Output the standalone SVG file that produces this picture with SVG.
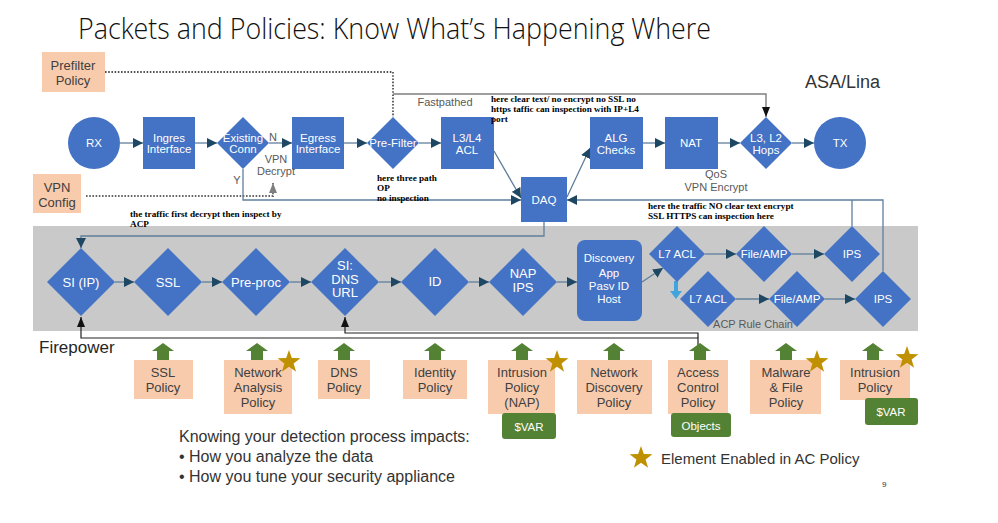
<svg xmlns="http://www.w3.org/2000/svg" width="998" height="523" viewBox="0 0 998 523">
<defs>
<marker id="ah" markerUnits="userSpaceOnUse" markerWidth="10" markerHeight="10" viewBox="0 0 10 10" refX="10" refY="5" orient="auto"><path d="M0,0 L10,5 L0,10 z" fill="#1d4762"/></marker>
<marker id="ahk" markerUnits="userSpaceOnUse" markerWidth="10" markerHeight="10" viewBox="0 0 10 10" refX="10" refY="5" orient="auto"><path d="M0,1 L10,5 L0,9 z" fill="#111"/></marker>
<marker id="ahg" markerUnits="userSpaceOnUse" markerWidth="10" markerHeight="10" viewBox="0 0 10 10" refX="10" refY="5" orient="auto"><path d="M0,1 L10,5 L0,9 z" fill="#7f7f7f"/></marker>
<polygon id="star" points="0,-12 2.8,-3.9 11.4,-3.7 4.6,1.5 7.1,9.7 0,4.8 -7.1,9.7 -4.6,1.5 -11.4,-3.7 -2.8,-3.9" fill="#BF9000"/>
<path id="garrow" d="M-6,17 L-6,8 L-11,8 L0,0 L11,8 L6,8 L6,17 z" fill="#548235"/>
</defs>
<style>
.b{fill:#4472C4}
.w{fill:#fff;font-family:"Liberation Sans",Arial,sans-serif;font-size:11.5px;text-anchor:middle}
.w2{fill:#fff;font-family:"Liberation Sans",Arial,sans-serif;font-size:13px;text-anchor:middle}
.p{fill:#F8CBAD}
.pt{fill:#404040;font-family:"Liberation Sans",Arial,sans-serif;font-size:13px;text-anchor:middle}
.g{fill:#595959;font-family:"Liberation Sans",Arial,sans-serif;font-size:11px;text-anchor:middle}
.n{fill:#000;font-family:"Liberation Serif","Times New Roman",serif;font-size:9.2px;font-weight:bold}
.c{fill:none;stroke:#5f7f9c;stroke-width:1.3}
.k{fill:none;stroke:#222;stroke-width:1.2}
.gb{fill:#548235}
</style>
<rect width="998" height="523" fill="#fff"/>
<text x="78" y="39" font-family="'Open Sans',sans-serif" font-weight="300" font-size="29" fill="#111" textLength="633" lengthAdjust="spacingAndGlyphs">Packets and Policies: Know What’s Happening Where</text>
<text x="805" y="88" font-family="'Liberation Sans',Arial,sans-serif" font-size="18" fill="#333">ASA/Lina</text>
<rect x="33" y="226" width="885" height="105" fill="#C9C9C9"/>
<text x="39" y="353" font-family="'Liberation Sans',Arial,sans-serif" font-size="17" fill="#262626">Firepower</text>

<g id="connectors">
<path d="M105,72 H393 V117" fill="none" stroke="#555" stroke-width="1.8" stroke-dasharray="1.6,1.6"/>
<path d="M393,94 H766 V117" fill="none" stroke="#7f7f7f" stroke-width="1.4" marker-end="url(#ahk)"/>
<path d="M86,196 H273 V183" fill="none" stroke="#666" stroke-width="1.8" stroke-dasharray="1.6,1.6" marker-end="url(#ahg)"/>
<path class="c" d="M120,143 H143" marker-end="url(#ah)"/>
<path class="c" d="M195,143 H217" marker-end="url(#ah)"/>
<path class="c" d="M269,143 H292" marker-end="url(#ah)"/>
<path class="c" d="M344,143 H367" marker-end="url(#ah)"/>
<path class="c" d="M419,143 H441" marker-end="url(#ah)"/>
<path class="c" d="M643,143 H665" marker-end="url(#ah)"/>
<path class="c" d="M718,143 H740" marker-end="url(#ah)"/>
<path class="c" d="M792,143 H814" marker-end="url(#ah)"/>
<path class="c" d="M494,151 L521,198" marker-end="url(#ah)"/>
<path class="c" d="M567,197 L590,148" marker-end="url(#ah)"/>
<path class="c" d="M243,169 V200 H521" marker-end="url(#ah)"/>
<path class="c" d="M883,271 V200 H567" marker-end="url(#ah)"/>
<path class="c" d="M852,226 V200"/>
<path class="c" d="M544,222 V236 H81 V248" marker-end="url(#ah)"/>
<path class="c" d="M115,282 H134" marker-end="url(#ah)"/>
<path class="c" d="M202,282 H222" marker-end="url(#ah)"/>
<path class="c" d="M290,282 H311" marker-end="url(#ah)"/>
<path class="c" d="M379,282 H401" marker-end="url(#ah)"/>
<path class="c" d="M469,282 H489" marker-end="url(#ah)"/>
<path class="c" d="M557,282 H577" marker-end="url(#ah)"/>
<path class="c" d="M642,282 L663,268" marker-end="url(#ah)"/>
<path class="c" d="M705,254 H736" marker-end="url(#ah)"/>
<path class="c" d="M792,254 H824" marker-end="url(#ah)"/>
<path class="c" d="M736,299 H769" marker-end="url(#ah)"/>
<path class="c" d="M825,299 H855" marker-end="url(#ah)"/>
<path d="M674,281 V291 H670 L676,299 L682,291 H678 V281 z" fill="#41A4DC"/>
<path class="k" d="M698,345 V338 H81 V317" marker-end="url(#ahk)"/>
<path class="k" d="M698,338 V333 H345 V317" marker-end="url(#ahk)"/>
</g>

<g id="prefilter-policy"><rect class="p" x="42" y="52" width="63" height="40"/><text class="pt" x="73" y="70" font-size="13.5">Prefilter</text><text class="pt" x="73" y="85" font-size="13.5">Policy</text></g>
<g id="vpn-config"><rect class="p" x="33" y="174" width="48" height="39"/><text class="pt" x="57" y="192" font-size="13.5">VPN</text><text class="pt" x="57" y="207" font-size="13.5">Config</text></g>

<g id="rx"><circle class="b" cx="94" cy="143" r="26"/><text class="w" x="94" y="147">RX</text></g>
<g id="ingres"><rect class="b" x="143" y="117" width="52" height="52"/><text class="w" x="169" y="142">Ingres</text><text class="w" x="169" y="153">Interface</text></g>
<g id="existing"><polygon class="b" points="243,117 269,143 243,169 217,143"/><text class="w" x="243" y="142">Existing</text><text class="w" x="243" y="153">Conn</text></g>
<g id="egress"><rect class="b" x="292" y="117" width="52" height="52"/><text class="w" x="318" y="142">Egress</text><text class="w" x="318" y="153">Interface</text></g>
<g id="prefilter"><polygon class="b" points="393,117 419,143 393,169 367,143"/><text class="w" x="393" y="147">Pre-Filter</text></g>
<g id="l3l4acl"><rect class="b" x="441" y="117" width="53" height="52"/><text class="w" x="467" y="142">L3/L4</text><text class="w" x="467" y="154">ACL</text></g>
<g id="alg"><rect class="b" x="590" y="117" width="53" height="52"/><text class="w" x="616" y="142">ALG</text><text class="w" x="616" y="154">Checks</text></g>
<g id="nat"><rect class="b" x="665" y="117" width="53" height="52"/><text class="w" x="691" y="147">NAT</text></g>
<g id="hops"><polygon class="b" points="766,117 792,143 766,169 740,143"/><text class="w" x="766" y="142">L3, L2</text><text class="w" x="766" y="154">Hops</text></g>
<g id="tx"><circle class="b" cx="840" cy="143" r="26"/><text class="w" x="840" y="147">TX</text></g>
<g id="daq"><rect class="b" x="521" y="177" width="46" height="45"/><text class="w" x="544" y="204">DAQ</text></g>

<g id="labels">
<text class="g" x="273" y="141" font-size="11.5">N</text>
<text class="g" x="276" y="163" font-size="11.5">VPN</text>
<text class="g" x="276" y="175" font-size="11.5">Decrypt</text>
<text class="g" x="237" y="184" font-size="11.5">Y</text>
<text class="g" x="445" y="106" font-size="11.5">Fastpathed</text>
<text class="g" x="716" y="178" font-size="11.5">QoS</text>
<text class="g" x="716" y="191" font-size="11.5">VPN Encrypt</text>
<text class="g" x="753" y="328" font-size="11">ACP Rule Chain</text>
<text class="n" x="491" y="102">here clear text/ no encrypt no SSL no</text>
<text class="n" x="491" y="112">https taffic can inspection with IP+L4</text>
<text class="n" x="491" y="122">port</text>
<text class="n" x="377" y="181">here three path</text>
<text class="n" x="377" y="191">OP</text>
<text class="n" x="377" y="201">no inspection</text>
<text class="n" x="130" y="217">the traffic first decrypt then inspect by</text>
<text class="n" x="130" y="227">ACP</text>
<text class="n" x="648" y="209">here the traffic NO clear text encrypt</text>
<text class="n" x="648" y="219">SSL HTTPS can inspection here</text>
</g>

<g id="si-ip"><polygon class="b" points="81,248 115,282 81,316 47,282"/><text class="w2" x="81" y="287">SI (IP)</text></g>
<g id="ssl"><polygon class="b" points="168,248 202,282 168,316 134,282"/><text class="w2" x="168" y="287">SSL</text></g>
<g id="preproc"><polygon class="b" points="256,248 290,282 256,316 222,282"/><text class="w2" x="256" y="287">Pre-proc</text></g>
<g id="si-dns"><polygon class="b" points="345,248 379,282 345,316 311,282"/><text class="w2" x="345" y="270" font-size="12.5">SI:</text><text class="w2" x="345" y="283.5" font-size="12.5">DNS</text><text class="w2" x="345" y="297" font-size="12.5">URL</text></g>
<g id="id"><polygon class="b" points="435,248 469,282 435,316 401,282"/><text class="w2" x="435" y="286">ID</text></g>
<g id="nap-ips"><polygon class="b" points="523,248 557,282 523,316 489,282"/><text class="w2" x="523" y="277.5">NAP</text><text class="w2" x="523" y="291.5">IPS</text></g>
<g id="discovery"><rect class="b" x="577" y="240" width="65" height="81" rx="8"/><text class="w" x="609" y="262" font-size="12">Discovery</text><text class="w" x="609" y="277" font-size="12">App</text><text class="w" x="609" y="290" font-size="12">Pasv ID</text><text class="w" x="609" y="303" font-size="12">Host</text></g>
<g id="l7acl-1"><polygon class="b" points="677,226 705,254 677,282 649,254"/><text class="w" x="677" y="258" font-size="12.5">L7 ACL</text></g>
<g id="fileamp-1"><polygon class="b" points="764,226 792,254 764,282 736,254"/><text class="w" x="764" y="258" font-size="12.5">File/AMP</text></g>
<g id="ips-1"><polygon class="b" points="852,226 880,254 852,282 824,254"/><text class="w" x="852" y="258" font-size="12.5">IPS</text></g>
<g id="l7acl-2"><polygon class="b" points="708,271 736,299 708,327 680,299"/><text class="w" x="708" y="303" font-size="12.5">L7 ACL</text></g>
<g id="fileamp-2"><polygon class="b" points="797,271 825,299 797,327 769,299"/><text class="w" x="797" y="303" font-size="12.5">File/AMP</text></g>
<g id="ips-2"><polygon class="b" points="883,271 911,299 883,327 855,299"/><text class="w" x="883" y="303" font-size="12.5">IPS</text></g>

<g id="ssl-policy"><use href="#garrow" x="163" y="343"/><rect class="p" x="134" y="360" width="59" height="39"/><text class="pt" x="163" y="377">SSL</text><text class="pt" x="163" y="392">Policy</text></g>
<g id="nap-policy"><use href="#garrow" x="257" y="343"/><rect class="p" x="224" y="360" width="68" height="54"/><text class="pt" x="258" y="377">Network</text><text class="pt" x="258" y="392">Analysis</text><text class="pt" x="258" y="407">Policy</text><use href="#star" x="289" y="362"/></g>
<g id="dns-policy"><use href="#garrow" x="344" y="343"/><rect class="p" x="318" y="360" width="52" height="39"/><text class="pt" x="344" y="377">DNS</text><text class="pt" x="344" y="392">Policy</text></g>
<g id="identity-policy"><use href="#garrow" x="435" y="343"/><rect class="p" x="403" y="360" width="64" height="39"/><text class="pt" x="435" y="377">Identity</text><text class="pt" x="435" y="392">Policy</text></g>
<g id="intrusion-nap"><use href="#garrow" x="522" y="343"/><rect class="p" x="488" y="360" width="67" height="54"/><text class="pt" x="522" y="377">Intrusion</text><text class="pt" x="522" y="392">Policy</text><text class="pt" x="522" y="407">(NAP)</text><use href="#star" x="557" y="362"/><rect class="gb" x="502" y="413" width="54" height="26" rx="3"/><text class="w" x="529" y="431" font-size="13">$VAR</text></g>
<g id="netdisc-policy"><use href="#garrow" x="614" y="343"/><rect class="p" x="577" y="360" width="75" height="54"/><text class="pt" x="614" y="377">Network</text><text class="pt" x="614" y="392">Discovery</text><text class="pt" x="614" y="407">Policy</text></g>
<g id="ac-policy"><use href="#garrow" x="700" y="343"/><rect class="p" x="668" y="360" width="60" height="54"/><text class="pt" x="698" y="377">Access</text><text class="pt" x="698" y="392">Control</text><text class="pt" x="698" y="407">Policy</text><rect class="gb" x="671" y="413" width="60" height="24" rx="3"/><text class="w" x="701" y="430" font-size="12">Objects</text></g>
<g id="malware-policy"><use href="#garrow" x="786" y="343"/><rect class="p" x="750" y="360" width="71" height="54"/><text class="pt" x="786" y="377">Malware</text><text class="pt" x="786" y="392">&amp; File</text><text class="pt" x="786" y="407">Policy</text><use href="#star" x="817" y="362"/></g>
<g id="intrusion-policy"><use href="#garrow" x="873" y="343"/><rect class="p" x="840" y="360" width="70" height="40"/><text class="pt" x="875" y="377">Intrusion</text><text class="pt" x="875" y="392">Policy</text><use href="#star" x="907" y="358"/><rect class="gb" x="865" y="398" width="53" height="27" rx="3"/><text class="w" x="891" y="416" font-size="13">$VAR</text></g>

<g id="notes" font-family="'Liberation Sans',Arial,sans-serif" fill="#333">
<text x="179" y="442" font-size="16">Knowing your detection process impacts:</text>
<text x="179" y="462" font-size="16">• How you analyze the data</text>
<text x="179" y="482" font-size="16">• How you tune your security appliance</text>
<use href="#star" x="641" y="458"/>
<text x="661" y="464" font-size="15">Element Enabled in AC Policy</text>
<text x="882" y="487" font-size="8">9</text>
</g>
</svg>
